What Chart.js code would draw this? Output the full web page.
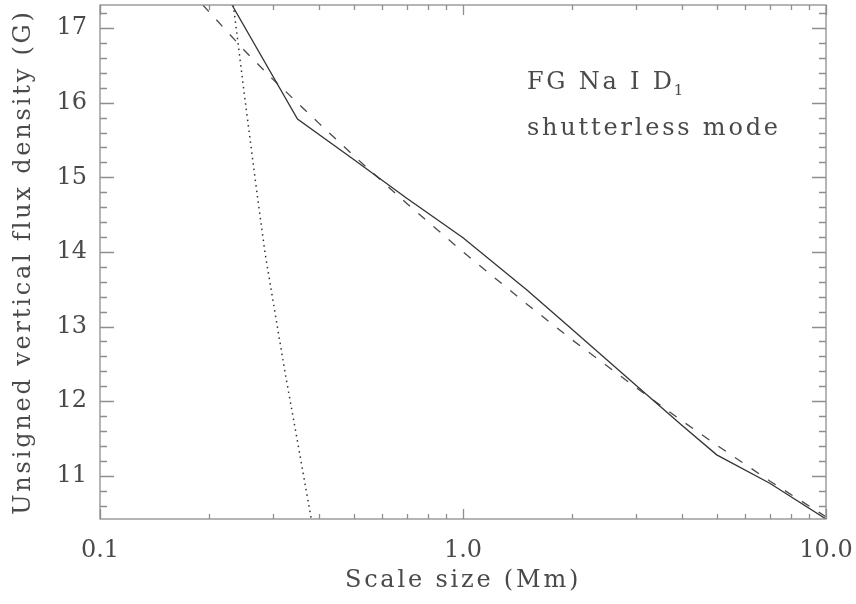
<!DOCTYPE html>
<html>
<head>
<meta charset="utf-8">
<script src="https://cdn.jsdelivr.net/npm/chart.js@4.4.1/dist/chart.umd.min.js"></script>
<style>
  html, body { margin: 0; padding: 0; background: #ffffff; }
  #wrap { width: 856px; height: 604px; position: relative; }
</style>
</head>
<body>
<div id="wrap"><canvas id="fluxChart"></canvas></div>
<script>
// Measured flux density vs. scale size
const measuredScale = [0.231, 0.35, 0.5, 0.7, 1.0, 1.5, 2.0, 3.0, 4.0, 5.0, 7.0, 10.0];
const measuredFlux  = [17.31, 15.78, 15.24, 14.72, 14.19, 13.49, 12.96, 12.21, 11.68, 11.28, 10.90, 10.42];

// Power-law fit (dashed)
const fitScale = [0.192, 0.25, 0.3, 0.4, 0.5, 0.7, 1.0, 1.5, 2.0, 3.0, 4.0, 5.0, 7.0, 10.0];
const fitFlux  = [17.31, 16.70, 16.31, 15.73, 15.29, 14.65, 14.00, 13.30, 12.82, 12.18, 11.74, 11.41, 10.93, 10.45];

// Noise contribution (dotted)
const noiseScale = [0.233, 0.25, 0.27, 0.285, 0.3, 0.323, 0.35, 0.382];
const noiseFlux  = [17.31, 16.10, 14.83, 13.98, 13.33, 12.40, 11.46, 10.42];

// Axis ticks and labels
const xTickValues = [0.1, 1, 10];
const xTickLabels = ['0.1', '1.0', '10.0'];
const yTickValues = [11, 12, 13, 14, 15, 16, 17];
const yTickLabels = ['11', '12', '13', '14', '15', '16', '17'];

const X_MIN = 0.1, X_MAX = 10;
const Y_MIN = 10.42, Y_MAX = 17.31;

const toPoints = (xs, ys) => xs.map((v, i) => ({ x: v, y: ys[i] }));

const TEXT_COLOR = '#4a4a4a';
const AXIS_COLOR = '#8e8e8e';
const FONT_FAMILY = '"DejaVu Serif", serif';

// Widen title lettering; tick labels (drawn later) use normal spacing
const letterSpacingPlugin = {
  id: 'letterSpacing',
  beforeDraw(chart) { chart.ctx.letterSpacing = '2.8px'; },
  beforeDatasetsDraw(chart) { chart.ctx.letterSpacing = '0px'; }
};

// Box frame with inward major/minor ticks on all four sides
const framePlugin = {
  id: 'frame',
  afterDatasetsDraw(chart) {
    const { ctx, chartArea: a, scales: { x, y } } = chart;
    ctx.save();
    ctx.strokeStyle = AXIS_COLOR;
    ctx.lineWidth = 1.3;
    ctx.strokeRect(a.left, a.top, a.right - a.left, a.bottom - a.top);
    ctx.beginPath();
    // logarithmic x ticks: 1..9 in each decade
    for (let d = -1; d <= 1; d++) {
      for (let m = 1; m <= 9; m++) {
        const v = m * Math.pow(10, d);
        if (v < X_MIN - 1e-9 || v > X_MAX + 1e-9) continue;
        const px = Math.round(x.getPixelForValue(v)) + 0.5;
        const len = m === 1 ? 10 : 5;
        ctx.moveTo(px, a.bottom); ctx.lineTo(px, a.bottom - len);
        ctx.moveTo(px, a.top); ctx.lineTo(px, a.top + len);
      }
    }
    // linear y ticks: minor every 0.2
    for (let i = Math.ceil(Y_MIN * 5); i <= Math.floor(Y_MAX * 5); i++) {
      const py = Math.round(y.getPixelForValue(i / 5)) + 0.5;
      const len = i % 5 === 0 ? 14 : 7;
      ctx.moveTo(a.left, py); ctx.lineTo(a.left + len, py);
      ctx.moveTo(a.right, py); ctx.lineTo(a.right - len, py);
    }
    ctx.stroke();
    ctx.restore();
  },
  afterDraw(chart) {
    const { ctx, scales: { x, y } } = chart;
    const left = x.getPixelForValue(1.5);
    const base1 = y.getPixelForValue(16.18);
    const base2 = base1 + 46;
    ctx.save();
    ctx.fillStyle = TEXT_COLOR;
    ctx.textBaseline = 'alphabetic';
    ctx.textAlign = 'left';
    ctx.letterSpacing = '2.8px';
    ctx.font = '24px ' + FONT_FAMILY;
    const line1 = 'FG Na I D';
    ctx.fillText(line1, left, base1);
    const w = ctx.measureText(line1).width;
    ctx.font = '15px ' + FONT_FAMILY;
    ctx.fillText('1', left + w - 1, base1 + 6);
    ctx.font = '24px ' + FONT_FAMILY;
    ctx.fillText('shutterless mode', left, base2);
    ctx.restore();
  }
};

const tickFont = { family: FONT_FAMILY, size: 24 };

new Chart(document.getElementById('fluxChart'), {
  type: 'line',
  data: {
    datasets: [
      {
        label: 'measured',
        data: toPoints(measuredScale, measuredFlux),
        borderColor: '#333333',
        borderWidth: 1.3,
        pointRadius: 0,
        tension: 0,
        fill: false
      },
      {
        label: 'fit',
        data: toPoints(fitScale, fitFlux),
        borderColor: '#4a4a4a',
        borderWidth: 1.3,
        borderDash: [9, 11],
        pointRadius: 0,
        tension: 0,
        fill: false
      },
      {
        label: 'noise',
        data: toPoints(noiseScale, noiseFlux),
        borderColor: '#333333',
        borderWidth: 1.5,
        borderDash: [1.5, 4],
        pointRadius: 0,
        tension: 0,
        fill: false
      }
    ]
  },
  options: {
    responsive: true,
    maintainAspectRatio: false,
    animation: false,
    events: [],
    layout: { padding: { top: 5, right: 30, left: 0, bottom: 0 } },
    plugins: {
      legend: { display: false },
      tooltip: { enabled: false }
    },
    scales: {
      x: {
        type: 'logarithmic',
        min: X_MIN,
        max: X_MAX,
        grid: { display: false, drawTicks: false },
        border: { display: false },
        afterBuildTicks(scale) { scale.ticks = xTickValues.map(v => ({ value: v })); },
        afterFit(scale) { scale.height = 85; scale.paddingLeft = 0; scale.paddingRight = 0; },
        ticks: {
          z: 1,
          color: TEXT_COLOR,
          font: tickFont,
          padding: 17,
          maxRotation: 0,
          autoSkip: false,
          callback: (value, index) => xTickLabels[index]
        },
        title: {
          display: true,
          text: 'Scale size (Mm)',
          color: TEXT_COLOR,
          font: tickFont,
          padding: { top: 0, bottom: 9 }
        }
      },
      y: {
        type: 'linear',
        min: Y_MIN,
        max: Y_MAX,
        grid: { display: false, drawTicks: false },
        border: { display: false },
        afterBuildTicks(scale) { scale.ticks = yTickValues.map(v => ({ value: v })); },
        afterFit(scale) { scale.width = 100; scale.paddingTop = 0; scale.paddingBottom = 0; },
        ticks: {
          z: 1,
          color: TEXT_COLOR,
          font: tickFont,
          padding: 13,
          autoSkip: false,
          callback: (value, index) => yTickLabels[index]
        },
        title: {
          display: true,
          text: 'Unsigned vertical flux density (G)',
          color: TEXT_COLOR,
          font: tickFont,
          padding: { top: 9, bottom: 0 }
        }
      }
    }
  },
  plugins: [letterSpacingPlugin, framePlugin]
});
</script>
</body>
</html>
